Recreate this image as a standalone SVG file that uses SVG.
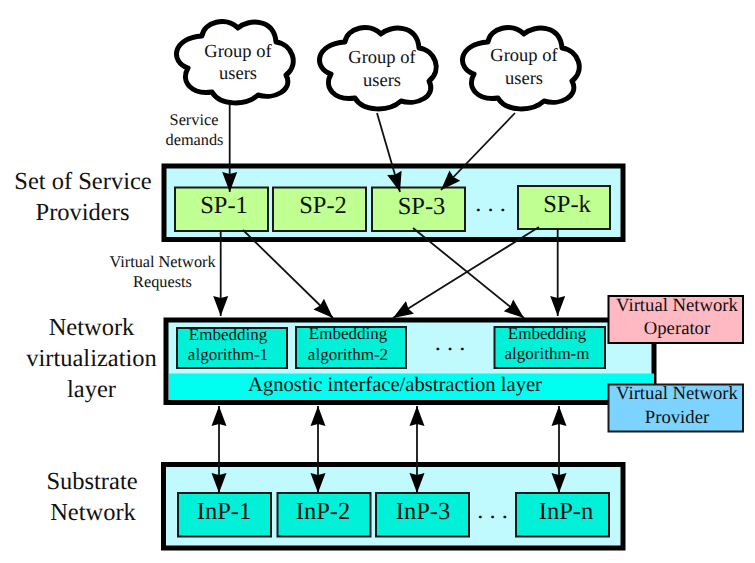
<svg xmlns="http://www.w3.org/2000/svg" width="755" height="563" viewBox="0 0 755 563">
<style>
text{font-family:"Liberation Serif","Times New Roman",serif;fill:#111;text-anchor:middle;text-rendering:geometricPrecision}
.f24{font-size:24.500px}.f20{font-size:20.600px}.f18{font-size:18.700px}.f185{font-size:18.500px}.f17{font-size:17px}.f16{font-size:16.300px}
.outer{fill:#c0faff;stroke:#000;stroke-width:5}
.sp{fill:#c0ff92;stroke:#1a1a1a;stroke-width:2}
.alg{fill:#00f0d8;stroke:#1a1a1a;stroke-width:2}
.cloud{fill:#fff;stroke:#000;stroke-width:5;stroke-linejoin:round}
.c{fill:none;stroke:#111;stroke-width:1.8}
</style>
<defs>
<marker id="a" markerUnits="userSpaceOnUse" markerWidth="22" markerHeight="20" viewBox="0 0 22 20" refX="20" refY="10" orient="auto-start-reverse"><path d="M0 2.500L20 10L0 17.500L2 10Z" fill="#000"/></marker>
<path id="cl" d="M42 36C44 22 66 16 78 28C88 19 114 18 116 42C132 44 140 64 126 75C134 90 114 100 98 95C86 106 60 106 52 92C32 95 20 82 28 68C10 62 12 38 42 36Z"/>
</defs>
<g id="labels">
<text class="f24" x="83" y="189">Set of Service</text><text class="f24" x="82.500" y="220">Providers</text>
<text class="f24" x="91.500" y="335">Network</text><text class="f24" x="91.500" y="366">virtualization</text><text class="f24" x="91.500" y="397">layer</text>
<text class="f24" x="92" y="489">Substrate</text><text class="f24" x="93" y="520">Network</text>
<text class="f16" x="194" y="125">Service</text><text class="f16" x="194.500" y="145">demands</text>
<text class="f16" x="162.500" y="267">Virtual Network</text><text class="f16" x="162.500" y="287">Requests</text>
</g>
<g id="cloud-1"><use href="#cl" class="cloud" x="160" y="0"/><text class="f185" x="238" y="57">Group of</text><text class="f185" x="238" y="79">users</text></g>
<g id="cloud-2"><use href="#cl" class="cloud" x="303" y="6"/><text class="f185" x="382" y="63">Group of</text><text class="f185" x="382" y="86">users</text></g>
<g id="cloud-3"><use href="#cl" class="cloud" x="446" y="6"/><text class="f185" x="524" y="61">Group of</text><text class="f185" x="524" y="84">users</text></g>
<g id="service-providers"><rect class="outer" x="164" y="166" width="459" height="73.500"/></g>
<g id="sp-1"><rect class="sp" x="175" y="187.500" width="93" height="43.500"/><text class="f24" x="224" y="213">SP-1</text></g>
<g id="sp-2"><rect class="sp" x="273" y="187.500" width="93" height="43.500"/><text class="f24" x="323" y="213">SP-2</text></g>
<g id="sp-3"><rect class="sp" x="372" y="187.500" width="93" height="43.500"/><text class="f24" x="421.500" y="214">SP-3</text></g>
<g id="sp-k"><rect class="sp" x="518" y="186" width="92" height="43"/><text class="f24" x="567" y="212">SP-k</text></g>
<text class="f24" x="490.500" y="211">. . .</text>
<g id="virtualization-layer"><rect class="outer" x="166" y="320" width="488" height="82.500"/><rect x="169" y="373.500" width="485" height="26.500" fill="#00fff0"/><text class="f20" x="395" y="391">Agnostic interface/abstraction layer</text></g>
<g id="alg-1"><rect class="alg" x="177" y="328" width="110" height="40"/><text class="f17" x="228" y="340">Embedding</text><text class="f17" x="228" y="360">algorithm-1</text></g>
<g id="alg-2"><rect class="alg" x="296" y="327" width="110" height="41"/><text class="f17" x="348" y="339">Embedding</text><text class="f17" x="348" y="360">algorithm-2</text></g>
<g id="alg-m"><rect class="alg" x="494.500" y="327" width="110.500" height="41"/><text class="f17" x="547" y="339">Embedding</text><text class="f17" x="547" y="359">algorithm-m</text></g>
<text class="f24" x="450" y="350">. . .</text>
<g id="vno"><rect x="608.500" y="296" width="134.500" height="47" fill="#ffb9c3" stroke="#000" stroke-width="2"/><text class="f18" x="677" y="311">Virtual Network</text><text class="f18" x="677" y="334">Operator</text></g>
<g id="vnp"><rect x="608.500" y="384.500" width="134.500" height="47" fill="#7cd3ff" stroke="#1a1a1a" stroke-width="2"/><text class="f18" x="677" y="399">Virtual Network</text><text class="f18" x="677" y="423">Provider</text></g>
<g id="substrate"><rect class="outer" x="163.500" y="464.500" width="459.500" height="83.500"/></g>
<g id="inp-1"><rect class="alg" x="178" y="493" width="93" height="43.500"/><text class="f24" x="224" y="519">InP-1</text></g>
<g id="inp-2"><rect class="alg" x="277.500" y="493" width="93" height="43.500"/><text class="f24" x="323" y="519">InP-2</text></g>
<g id="inp-3"><rect class="alg" x="376" y="493" width="93" height="43.500"/><text class="f24" x="423" y="519">InP-3</text></g>
<g id="inp-n"><rect class="alg" x="516" y="493" width="93" height="43.500"/><text class="f24" x="566" y="519">InP-n</text></g>
<text class="f24" x="492.500" y="518">. . .</text>
<g id="connectors">
<path class="c" marker-end="url(#a)" d="M229.700 104V192"/>
<path class="c" marker-end="url(#a)" d="M377 113L400 192"/>
<path class="c" marker-end="url(#a)" d="M515 113L441 190"/>
<path class="c" marker-end="url(#a)" d="M220.700 231V316"/>
<path class="c" marker-end="url(#a)" d="M243 230L333 318"/>
<path class="c" marker-end="url(#a)" d="M413 228L524 318"/>
<path class="c" marker-end="url(#a)" d="M539 227L393 318"/>
<path class="c" marker-end="url(#a)" d="M557.700 229V316"/>
<path class="c" marker-start="url(#a)" marker-end="url(#a)" d="M219 406V493"/>
<path class="c" marker-start="url(#a)" marker-end="url(#a)" d="M318 406V493"/>
<path class="c" marker-start="url(#a)" marker-end="url(#a)" d="M417 406V493"/>
<path class="c" marker-start="url(#a)" marker-end="url(#a)" d="M559 406V493"/>
</g>
</svg>
